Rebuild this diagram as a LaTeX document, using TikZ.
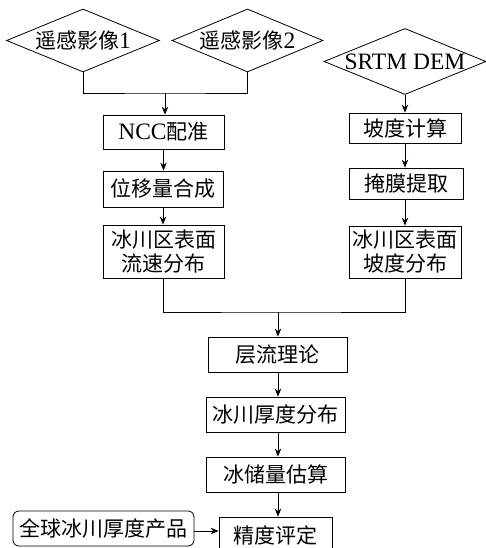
\documentclass[tikz,border=0pt]{standalone}
\usepackage{fontspec}
\setmainfont{Liberation Serif}
\newfontfamily\cjk{Noto Sans CJK SC}
\newcommand\zh[1]{{\cjk\fontsize{21}{24}\selectfont #1}}
\usetikzlibrary{shapes.geometric,arrows.meta}
\begin{document}
\begin{tikzpicture}[x=1pt,y=-1pt,
  every node/.style={font=\fontsize{23.5}{24}\selectfont, inner sep=0pt, align=center},
  box/.style={draw, rectangle, line width=0.8pt},
  dia/.style={draw, diamond, aspect=2.4, line width=0.8pt},
  rbox/.style={draw, rectangle, rounded corners=6pt, line width=0.8pt},
  line/.style={line width=0.8pt},
  arr/.style={line width=0.8pt, -{Stealth[length=8pt,width=6.5pt]}}]
\useasboundingbox (0,0) rectangle (486,548);
% top diamonds
\node[dia, minimum width=153pt, minimum height=63pt] (d1) at (83,40.5) {\zh{遥感影像}1};
\node[dia, minimum width=151pt, minimum height=63pt] (d2) at (247.5,40.5) {\zh{遥感影像}2};
\node[dia, minimum width=162pt, minimum height=59pt] (d3) at (405,61.5) {SRTM DEM};
% left column
\node[box, minimum width=121pt, minimum height=34pt] (ncc) at (163.5,132) {NCC\zh{配准}};
\node[box, minimum width=120pt, minimum height=36pt] (wy) at (163,189) {\zh{位移量合成}};
\node[box, minimum width=121pt, minimum height=53pt] (ls) at (163.5,251.5) {\zh{冰川区表面}\\\zh{流速分布}};
% right column
\node[box, minimum width=112pt, minimum height=30pt] (pd) at (405,128) {\zh{坡度计算}};
\node[box, minimum width=114pt, minimum height=31pt] (ym) at (406,183.5) {\zh{掩膜提取}};
\node[box, minimum width=112pt, minimum height=52pt] (pf) at (405,252) {\zh{冰川区表面}\\\zh{坡度分布}};
% center column
\node[box, minimum width=139pt, minimum height=35pt] (cl) at (277.5,354.5) {\zh{层流理论}};
\node[box, minimum width=139pt, minimum height=35pt] (hd) at (275.5,414.5) {\zh{冰川厚度分布}};
\node[box, minimum width=139pt, minimum height=35pt] (cc) at (275.5,474.5) {\zh{冰储量估算}};
\node[box, minimum width=113pt, minimum height=36pt] (jd) at (275.5,535) {\zh{精度评定}};
\node[rbox, minimum width=181pt, minimum height=35pt] (qq) at (103.5,528.5) {\zh{全球冰川厚度产品}};
% connectors
\coordinate (m1) at (165,93);
\draw[line] (d1.south) |- (m1) -| (d2.south);
\draw[arr] (m1) -- (m1 |- ncc.north);
\draw[arr] (ncc) -- (ncc |- wy.north);
\draw[arr] (wy) -- (wy |- ls.north);
\draw[arr] (d3.south) -- (d3.south |- pd.north);
\draw[arr] (pd) -- (pd |- ym.north);
\draw[arr] (pd |- ym.south) -- (pd |- pf.north);
\coordinate (m2) at (278,312);
\draw[line] (ls.south) |- (m2) -| (pf.south);
\draw[arr] (m2) -- (m2 |- cl.north);
\draw[arr] (m2 |- cl.south) -- (m2 |- hd.north);
\draw[arr] (m2 |- hd.south) -- (m2 |- cc.north);
\draw[arr] (m2 |- cc.south) -- (m2 |- jd.north);
\draw[arr] (qq.east |- 0,531) -- (jd.west |- 0,531);
\end{tikzpicture}
\end{document}
